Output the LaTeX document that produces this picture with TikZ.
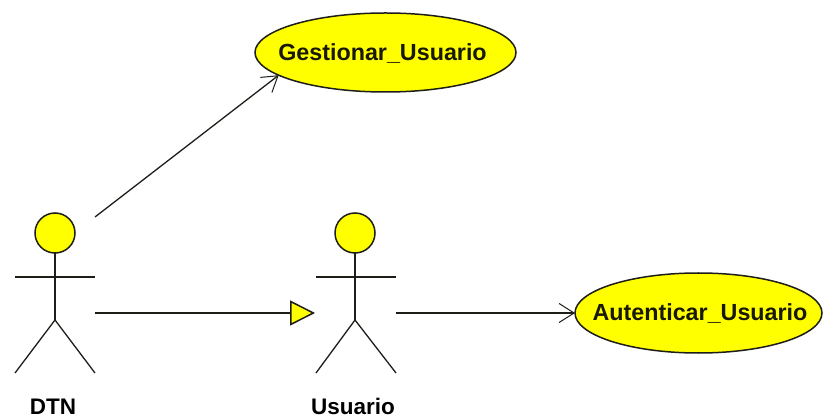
\documentclass[tikz,border=0pt]{standalone}
\usepackage{fontspec}
\setmainfont{Liberation Sans}
\usetikzlibrary{arrows.meta,shapes.geometric}
\definecolor{ucyellow}{RGB}{255,255,0}
\definecolor{ink}{RGB}{30,30,25}
\tikzset{
  x=1pt,y=-1pt,
  usecase/.style={ellipse,draw=ink,fill=ucyellow,line width=1.5pt,inner sep=0pt,outer sep=0pt},
  uclabel/.style={font=\bfseries\fontsize{23.3}{26}\selectfont,text=black!90!ucyellow,inner sep=0pt},
  head/.style={circle,draw=ink,fill=ucyellow,line width=1.5pt,minimum size=40pt,inner sep=0pt,outer sep=0pt},
  limb/.style={draw=ink,line width=1.3pt},
  actorname/.style={font=\bfseries\fontsize{22.5}{26}\selectfont,text=black,inner sep=0pt},
  assoc/.style={draw=ink,line width=1.3pt,-{Straight Barb[length=15pt,width=19pt,line width=1pt]}},
  generalize/.style={draw=ink,line width=1.3pt,-{Triangle[length=25pt,width=25pt,fill=ucyellow,line width=1.5pt]}}
}
\begin{document}
\begin{tikzpicture}
\useasboundingbox (0,0) rectangle (824,419);
\fill[white] (0,0) rectangle (824,419);

\node[usecase,minimum width=261pt,minimum height=79pt] (gest) at (385.5,52.5) {};
\node[uclabel] (gesttext) at (382.5,53) {Gestionar\_Usuario};
\node[usecase,minimum width=247pt,minimum height=80pt] (aut) at (698.5,313) {};
\node[uclabel] (auttext) at (700,313) {Autenticar\_Usuario};

% DTN actor
\node[head] (dtnhead) at (55,233) {};
\coordinate (dtnhip) at (55,320);
\coordinate (dtnarmL) at (15,277);
\coordinate (dtnarmR) at (95,277);
\coordinate (dtnfootL) at (15,373);
\coordinate (dtnfootR) at (95,373);
\draw[limb] (dtnhead) -- (dtnhip);
\draw[limb] (dtnarmL) -- (dtnarmR);
\draw[limb] (dtnfootL) -- (dtnhip) -- (dtnfootR);
\node[actorname] (dtnname) at (53,406.5) {DTN};

% Usuario actor
\node[head] (usrhead) at (355,233) {};
\coordinate (usrhip) at (355,320);
\coordinate (usrarmL) at (316,277);
\coordinate (usrarmR) at (396,277);
\coordinate (usrfootL) at (316,373);
\coordinate (usrfootR) at (396,373);
\draw[limb] (usrhead) -- (usrhip);
\draw[limb] (usrarmL) -- (usrarmR);
\draw[limb] (usrfootL) -- (usrhip) -- (usrfootR);
\node[actorname] (usrname) at (353,406.5) {Usuario};

% connectors
\coordinate (dtnout1) at (95,217);
\coordinate (dtnout2) at (95,313);
\coordinate (usrin) at (315,313);
\coordinate (usrout) at (396,313);
\draw[assoc] (dtnout1) -- (gest.192);
\draw[generalize] (dtnout2) -- (usrin);
\draw[assoc] (usrout) -- (aut.west);
\end{tikzpicture}
\end{document}
